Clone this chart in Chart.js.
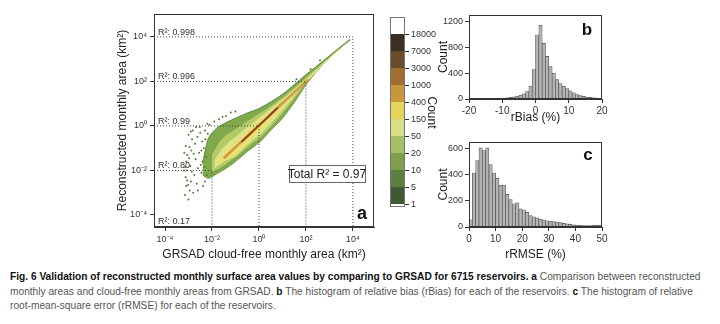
<!DOCTYPE html>
<html>
<head>
<meta charset="utf-8">
<script src="https://cdn.jsdelivr.net/npm/chart.js@4.4.0/dist/chart.umd.min.js"></script>
<style>
body{margin:0;background:#fff;width:720px;height:324px;overflow:hidden;position:relative}
canvas{position:absolute}
#caption{position:absolute;left:10px;top:269px;font-family:"Liberation Sans",Arial,sans-serif;font-size:11px;line-height:14.5px;color:#555;white-space:nowrap;transform:scaleX(0.925);transform-origin:0 0}
#caption b{color:#111}
</style>
</head>
<body>
<canvas id="main" width="285" height="268" style="left:100px;top:0"></canvas>
<canvas id="cbar" width="62" height="205" style="left:380px;top:10px"></canvas>
<canvas id="histBias" width="191" height="122" style="left:425px;top:5px"></canvas>
<canvas id="histRmse" width="191" height="130" style="left:425px;top:133px"></canvas>
<div id="caption"><b>Fig. 6 Validation of reconstructed monthly surface area values by comparing to GRSAD for 6715 reservoirs. a</b> Comparison between reconstructed<br>monthly areas and cloud-free monthly areas from GRSAD. <b>b</b> The histogram of relative bias (rBias) for each of the reservoirs. <b>c</b> The histogram of relative<br>root-mean-square error (rRMSE) for each of the reservoirs.</div>
<script>
// panel a, everything in log10(km2)
const tickExp = [-4, -2, 0, 2, 4];
const r2Levels = [4, 2, 0, -2, -4];
const r2Values = ['0.998', '0.996', '0.99', '0.80', '0.17'];
const refLevels = [-2, 0, 2, 4];

// density contours (count classes)
const outerX    = [-2.4, -2.15, -1.8, -1.4, -1.0, -0.5, 0.0, 0.5, 1.0, 1.5, 2.0, 2.5, 3.0, 3.5, 3.88];
const outerHigh = [-1.7, -0.55, -0.1, 0.15, 0.35, 0.58, 0.78, 1.08, 1.42, 1.85, 2.3, 2.72, 3.15, 3.58, 3.9];
const outerLow  = [-2.2, -2.35, -2.15, -1.9, -1.6, -1.15, -0.75, -0.2, 0.35, 1.05, 1.85, 2.5, 3.08, 3.53, 3.86];
const midX      = [-2.0, -1.6, -1.2, -0.8, -0.4, 0.0, 0.5, 1.0, 1.5, 2.0, 2.5, 3.0, 3.5, 3.8];
const midHigh   = [-1.3, -0.6, -0.28, 0.0, 0.28, 0.55, 0.9, 1.28, 1.72, 2.18, 2.64, 3.1, 3.55, 3.82];
const midLow    = [-2.05, -1.85, -1.55, -1.25, -0.88, -0.58, -0.05, 0.55, 1.22, 1.92, 2.5, 3.03, 3.5, 3.8];
const innerX    = [-1.9, -1.5, -1.0, -0.5, 0.0, 0.5, 1.0, 1.5, 2.0, 2.5, 3.0, 3.5];
const innerHigh = [-1.55, -0.95, -0.5, -0.05, 0.36, 0.78, 1.2, 1.64, 2.1, 2.58, 3.05, 3.52];
const innerLow  = [-1.9, -1.6, -1.35, -0.85, -0.42, 0.1, 0.7, 1.33, 1.96, 2.52, 3.02, 3.5];
const coreX     = [-1.7, -1.3, -0.9, -0.5, 0.0, 0.5, 1.0, 1.5, 2.0, 2.5];
const coreHigh  = [-1.55, -1.05, -0.7, -0.3, 0.15, 0.62, 1.1, 1.58, 2.06, 2.53];
const coreLow   = [-1.75, -1.45, -1.15, -0.72, -0.25, 0.3, 0.88, 1.42, 1.96, 2.48];
const ridgeX = [-1.5, -0.8, -0.3, 0.3, 1.0, 1.6, 2.1];
const ridgeY = [-1.45, -0.76, -0.27, 0.32, 1.02, 1.6, 2.08];
const peakX = [-0.75, -0.2, 0.3, 0.8];
const peakY = [-0.72, -0.18, 0.32, 0.82];

// loose points left of the cloud
const outlierX = [-3.15, -3.1, -3.12, -3.08, -3.1, -3.05, -3.12, -3.0, -2.95, -2.9, -2.92, -2.88, -2.85, -2.8, -2.75, -2.7, -2.72, -2.65,
  -2.6, -2.55, -2.5, -2.45, -2.4, -2.42, -2.35, -2.3, -2.3, -2.25, -2.2, -2.1, -1.9, -1.7, -1.4, -1.2, -3.0, -3.2, -2.98, -2.6, -3.18,
  -2.82, -2.52, -2.38, -2.68, -1.55, -1.0, 1.6, 2.2, 2.6, -3.14, -3.06, -2.96, -2.86, -2.78, -2.62, -2.48, -2.33, -3.02, -2.9,
  -2.28, -2.18, -2.45, -2.22];
const outlierY = [-3.1, -2.7, -2.3, -2.0, -1.6, -1.3, -0.9, -0.4, -2.9, -2.5, -1.8, -1.1, -0.6, -3.0, -2.2, -1.5, -0.8, -2.6,
  -1.9, -1.2, -0.3, -2.1, -1.6, -0.7, -1.0, -2.5, -0.2, -1.4, 0.1, 0.05, 0.2, 0.3, 0.45, 0.6, -3.3, -2.0, -1.45, -2.9, -1.2,
  -0.2, -0.05, -2.7, -0.05, 0.4, 0.65, 2.1, 2.55, 2.95, -1.85, -2.45, -0.95, -2.05, -1.25, -0.5, -1.75, -1.85, -2.65, -0.25,
  -0.6, -0.35, -1.1, -2.2];

// colour bar
const cbLabels = ['1', '5', '10', '20', '50', '150', '400', '1000', '3000', '7000', '18000'];
const cbColors = ['#3f5a33', '#5c7f40', '#7e9e4c', '#a7c066', '#d6df82', '#e6d55c', '#c9963c', '#a06e2e', '#6a4c2c', '#3b2f25', '#ffffff'];

// panel b: rBias (%), bins of 1
const biasEdges = [-20, -19, -18, -17, -16, -15, -14, -13, -12, -11, -10, -9, -8, -7, -6, -5, -4, -3, -2, -1,
  0, 1, 2, 3, 4, 5, 6, 7, 8, 9, 10, 11, 12, 13, 14, 15, 16, 17, 18, 19];
const biasCounts = [2, 2, 3, 3, 4, 5, 6, 7, 9, 11, 14, 18, 24, 32, 44, 60, 80, 115, 200, 455,
  995, 1140, 860, 660, 500, 400, 300, 240, 195, 160, 125, 95, 70, 52, 40, 30, 24, 18, 13, 10];
const biasTicks = [0, 400, 800, 1200];

// panel c: rRMSE (%), bins of 1.25
const rmseEdges = [0, 1.25, 2.5, 3.75, 5, 6.25, 7.5, 8.75, 10, 11.25, 12.5, 13.75, 15, 16.25, 17.5, 18.75, 20, 21.25, 22.5, 23.75,
  25, 26.25, 27.5, 28.75, 30, 31.25, 32.5, 33.75, 35, 36.25, 37.5, 38.75, 40, 41.25, 42.5, 43.75, 45, 46.25, 47.5, 48.75];
const rmseCounts = [55, 413, 508, 605, 585, 605, 477, 413, 372, 320, 320, 250, 210, 178, 185, 138, 132, 112, 88, 78,
  70, 60, 55, 48, 45, 42, 38, 33, 28, 24, 20, 17, 14, 13, 11, 10, 10, 12, 13, 15];
const rmseTicks = [0, 200, 400, 600];

Chart.defaults.font.family = '"Liberation Sans", Arial, sans-serif';
Chart.defaults.color = '#333';

const supMap = {'-': '⁻', '0': '⁰', '1': '¹', '2': '²', '3': '³', '4': '⁴', '5': '⁵'};
function pow10Label(v) {
  return '10' + String(v).split('').map(c => supMap[c]).join('');
}
function pts(xs, ys) {
  return xs.map((x, i) => ({x: x, y: ys[i]}));
}

const frame = {
  id: 'frame',
  afterDatasetsDraw(chart, args, opts) {
    const a = chart.chartArea, ctx = chart.ctx;
    ctx.save();
    ctx.strokeStyle = opts.color || '#333';
    ctx.lineWidth = 1;
    ctx.strokeRect(Math.round(a.left) + 0.5, Math.round(a.top) + 0.5, Math.round(a.right - a.left) - 1, Math.round(a.bottom - a.top) - 1);
    ctx.restore();
  }
};

const xMin = -4.47, xMax = 4.9, yMin = -4.54, yMax = 5.03;

function band(xs, hi, lo, color, order, edge) {
  return [
    {data: pts(xs, hi), fill: '+1', backgroundColor: color, borderColor: edge || 'transparent', borderWidth: edge ? 1 : 0, pointRadius: 0, tension: 0.3, order: order},
    {data: pts(xs, lo), fill: false, borderColor: edge || 'transparent', borderWidth: edge ? 1 : 0, pointRadius: 0, tension: 0.3, order: order}
  ];
}

const refSets = refLevels.map(lv => ({
  data: [{x: xMin, y: lv}, {x: lv, y: lv}, {x: lv, y: yMin}],
  borderColor: '#444', borderWidth: 1, borderDash: [1, 2], pointRadius: 0, fill: false, order: 0
}));

const panelText = {
  id: 'panelText',
  afterDraw(chart) {
    const {ctx, chartArea: a, scales: {y}} = chart;
    ctx.save();
    ctx.fillStyle = '#333';
    ctx.font = '9px "Liberation Sans", Arial, sans-serif';
    r2Levels.forEach((lv, i) => {
      const py = y.getPixelForValue(lv);
      ctx.fillText('R²: ' + r2Values[i], a.left + 4, lv === -4 ? py + 9 : py - 2);
    });
    // Total R2 box
    const bw = 76, bh = 17, bx = a.right - 9 - bw, by = a.top + 151;
    ctx.fillStyle = '#fff';
    ctx.fillRect(bx, by, bw, bh);
    ctx.strokeStyle = '#666';
    ctx.strokeRect(bx + 0.5, by + 0.5, bw, bh);
    ctx.fillStyle = '#222';
    ctx.font = '12px "Liberation Sans", Arial, sans-serif';
    ctx.textAlign = 'center';
    ctx.textBaseline = 'middle';
    ctx.fillText('Total R² = 0.97', bx + bw / 2, by + bh / 2 + 1);
    ctx.font = 'bold 18px "Liberation Sans", Arial, sans-serif';
    ctx.fillStyle = '#111';
    ctx.fillText('a', a.right - 12, a.bottom - 13);
    ctx.restore();
  }
};

new Chart(document.getElementById('main'), {
  type: 'line',
  data: {
    datasets: [
      ...refSets,
      {data: pts(outlierX, outlierY), showLine: false, pointRadius: 1, pointBackgroundColor: '#4e7b35', pointBorderWidth: 0, order: 1},
      {data: pts(peakX, peakY), borderColor: '#8a3f1f', borderWidth: 1.8, pointRadius: 0, tension: 0.3, order: 2},
      {data: pts(ridgeX, ridgeY), borderColor: '#cf9a45', borderWidth: 2.6, pointRadius: 0, tension: 0.3, order: 3},
      ...band(coreX, coreHigh, coreLow, '#efe06a', 4),
      ...band(innerX, innerHigh, innerLow, '#dde487', 5),
      ...band(midX, midHigh, midLow, '#b3cb66', 6),
      ...band(outerX, outerHigh, outerLow, '#80a84c', 7, '#5b8a3c')
    ]
  },
  options: {
    responsive: false,
    animation: false,
    layout: {padding: {left: 0, right: 11, top: 14, bottom: 0}},
    plugins: {legend: {display: false}, tooltip: {enabled: false}, frame: {color: '#333'}},
    scales: {
      x: {
        type: 'linear', min: xMin, max: xMax,
        afterBuildTicks: s => { s.ticks = tickExp.map(v => ({value: v})); },
        afterFit: s => { s.height = 41; },
        ticks: {callback: v => pow10Label(v), font: {size: 9}, color: '#333', maxRotation: 0, padding: 3},
        grid: {drawOnChartArea: false, tickLength: 4, color: '#333'},
        border: {color: '#333'},
        title: {display: true, text: 'GRSAD cloud-free monthly area (km²)', font: {size: 12}, color: '#222', padding: {bottom: 6}}
      },
      y: {
        type: 'linear', min: yMin, max: yMax,
        afterBuildTicks: s => { s.ticks = tickExp.map(v => ({value: v})); },
        afterFit: s => { s.width = 54; },
        ticks: {callback: v => pow10Label(v), font: {size: 9}, color: '#333', padding: 3},
        grid: {drawOnChartArea: false, tickLength: 4, color: '#333'},
        border: {color: '#333'},
        title: {display: true, text: 'Reconstructed monthly area (km²)', font: {size: 12}, color: '#222', padding: {top: 15}}
      }
    }
  },
  plugins: [frame, panelText]
});

// colour bar
new Chart(document.getElementById('cbar'), {
  type: 'bar',
  data: {
    labels: [''],
    datasets: cbColors.map(c => ({data: [1], backgroundColor: c, borderWidth: 0, barPercentage: 1, categoryPercentage: 1}))
  },
  options: {
    responsive: false,
    animation: false,
    layout: {padding: {left: 10, right: 0, top: 5, bottom: 4}},
    plugins: {legend: {display: false}, tooltip: {enabled: false}, frame: {color: '#777'}},
    scales: {
      x: {stacked: true, display: false},
      y: {
        stacked: true, position: 'right', min: -0.2, max: 11,
        afterBuildTicks: s => { s.ticks = cbLabels.map((_, i) => ({value: i})); },
        afterFit: s => { s.width = 37; },
        ticks: {callback: v => cbLabels[v], font: {size: 9}, color: '#333', padding: 2},
        grid: {drawOnChartArea: false, tickLength: 4, color: '#333'},
        border: {display: false},
        title: {display: true, text: 'Count', font: {size: 12}, color: '#222', padding: {top: 3}}
      }
    }
  },
  plugins: [frame]
});

function letterPlugin(letter, dx, dy) {
  return {
    id: 'letter',
    afterDraw(chart) {
      const {ctx, chartArea: a} = chart;
      ctx.save();
      ctx.font = 'bold 17px "Liberation Sans", Arial, sans-serif';
      ctx.fillStyle = '#111';
      ctx.textAlign = 'center';
      ctx.textBaseline = 'middle';
      ctx.fillText(letter, a.right - dx, a.top + dy);
      ctx.restore();
    }
  };
}

function histogram(id, edges, counts, width, xRange, xStep, yMax, yTicks, title, letter, pad, axisH, titlePad, letterPos) {
  new Chart(document.getElementById(id), {
    type: 'bar',
    data: {
      datasets: [{
        data: edges.map((e, i) => ({x: e + width / 2, y: counts[i]})),
        backgroundColor: '#b4b4b4', borderColor: '#555', borderWidth: 0.7,
        barPercentage: 1, categoryPercentage: 1
      }]
    },
    options: {
      responsive: false,
      animation: false,
      layout: {padding: pad},
      plugins: {legend: {display: false}, tooltip: {enabled: false}, frame: {color: '#333'}},
      scales: {
        x: {
          type: 'linear', min: xRange[0], max: xRange[1], offset: false,
          afterFit: s => { s.height = axisH; },
          ticks: {stepSize: xStep, font: {size: 10}, color: '#333', maxRotation: 0, padding: 2},
          grid: {drawOnChartArea: false, offset: false, tickLength: 4, color: '#333'},
          border: {color: '#333'},
          title: {display: true, text: title, font: {size: 12}, color: '#222', padding: {top: 0, bottom: titlePad}}
        },
        y: {
          min: 0, max: yMax,
          afterBuildTicks: s => { s.ticks = yTicks.map(v => ({value: v})); },
          afterFit: s => { s.width = 44; },
          ticks: {callback: v => String(v), font: {size: 9}, color: '#333', padding: 2},
          grid: {drawOnChartArea: false, tickLength: 4, color: '#333'},
          border: {color: '#333'},
          title: {display: true, text: 'Count', font: {size: 12}, color: '#222', padding: {top: 11}}
        }
      }
    },
    plugins: [frame, letterPlugin(letter, letterPos[0], letterPos[1])]
  });
}

histogram('histBias', biasEdges, biasCounts, 1, [-20, 20], 10, 1300, biasTicks, 'rBias (%)', 'b',
  {left: 0, right: 14, top: 10, bottom: 0}, 28, 2, [15, 15]);
histogram('histRmse', rmseEdges, rmseCounts, 1.25, [0, 50], 10, 650, rmseTicks, 'rRMSE (%)', 'c',
  {left: 0, right: 14, top: 9, bottom: 0}, 36, 1, [14, 13]);
</script>
</body>
</html>
